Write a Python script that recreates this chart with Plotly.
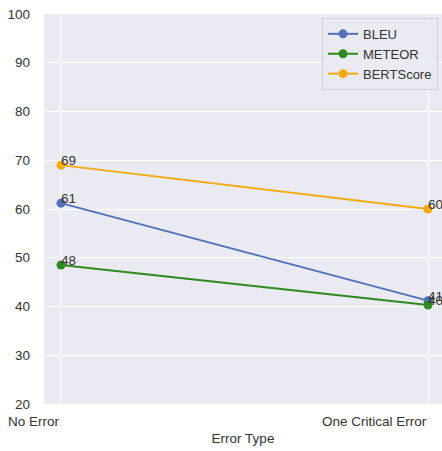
import plotly.graph_objects as go

categories = ["No Error", "One Critical Error"]
series_names = ["BLEU", "METEOR", "BERTScore"]
bleu = [61.2, 41.2]
meteor = [48.5, 40.3]
bertscore = [69.0, 60.0]
label_bleu = ["61", "41"]
label_meteor = ["48", "40"]
label_bertscore = ["69", "60"]
y_ticks = [20, 30, 40, 50, 60, 70, 80, 90, 100]

colors = ["#5470b8", "#2f8a1f", "#f5aa10"]
xs = list(range(len(categories)))
FS = 13.5

fig = go.Figure()
for name, vals, labels, col in zip(series_names, [bleu, meteor, bertscore],
                                   [label_bleu, label_meteor, label_bertscore], colors):
    fig.add_trace(go.Scatter(x=xs, y=vals, mode="lines+markers", name=name,
                             line=dict(color=col, width=2),
                             marker=dict(color=col, size=9)))
    for xi, v, t in zip(xs, vals, labels):
        fig.add_annotation(x=xi, y=v, text=t, showarrow=False, xanchor="left",
                           yanchor="bottom", xshift=-2, yshift=-5,
                           font=dict(size=FS, color="#333333"))

for xi, c in zip(xs, categories):
    fig.add_annotation(x=xi, y=0, xref="x", yref="paper", text=c, showarrow=False,
                       xanchor="right", yanchor="top", yshift=-8, xshift=1,
                       font=dict(size=FS, color="#333333"))

fig.update_layout(
    width=442, height=451,
    margin=dict(l=44, r=0, t=14, b=47),
    paper_bgcolor="white", plot_bgcolor="#eaeaf2",
    font=dict(family="Liberation Sans, Arial, sans-serif", size=FS, color="#333333"),
    legend=dict(x=0.99, y=0.99, xanchor="right", yanchor="top",
                bgcolor="rgba(234,234,242,0.85)", bordercolor="#cfcfd6", borderwidth=1,
                font=dict(size=13, color="#333333"), tracegroupgap=0, itemwidth=30),
    showlegend=True,
)
fig.update_xaxes(range=[-0.0463, 1.0381], tickvals=xs, ticktext=["", ""],
                 showgrid=True, gridcolor="white", gridwidth=1, zeroline=False,
                 showline=False, ticks="",
                 title=dict(text="Error Type", standoff=29, font=dict(size=FS, color="#333333")))
fig.update_yaxes(range=[20, 100], tickvals=y_ticks, showgrid=True, gridcolor="white",
                 gridwidth=1, zeroline=False, showline=False, ticks="",
                 ticklabelstandoff=13,
                 tickfont=dict(size=FS, color="#333333"))

fig.write_html("out.html", config={"displayModeBar": False},
               post_script="document.body.style.margin='0';document.body.style.overflow='hidden';")
